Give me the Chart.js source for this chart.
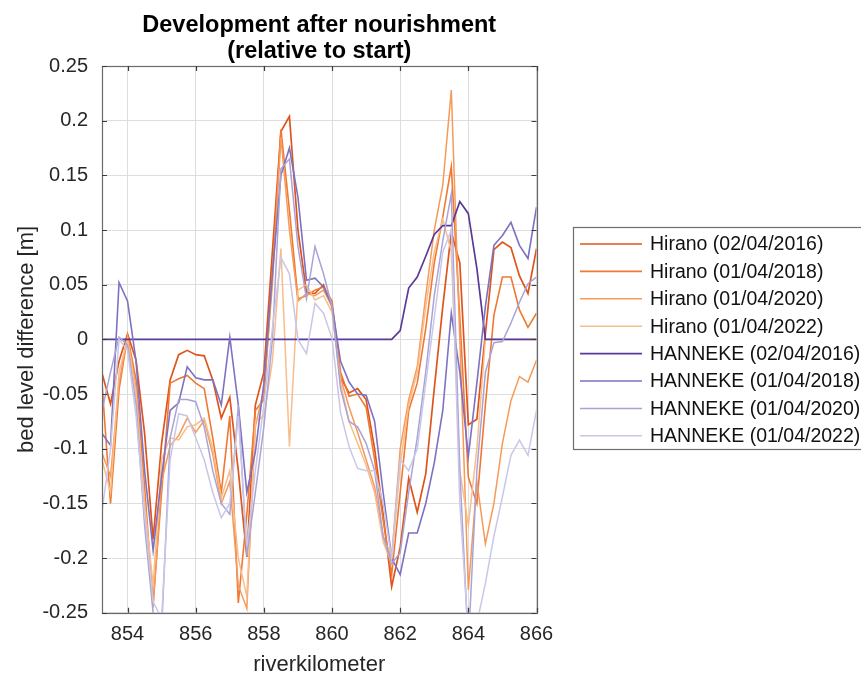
<!DOCTYPE html>
<html>
<head>
<meta charset="utf-8">
<script src="https://cdn.jsdelivr.net/npm/chart.js@4/dist/chart.umd.min.js"></script>
<style>
  html, body { margin: 0; padding: 0; background: #ffffff; }
  #wrap { width: 861px; height: 679px; }
</style>
</head>
<body>
<div id="wrap"><canvas id="c" width="861" height="679"></canvas></div>
<script>
// River kilometres of the cross-sections (every 250 m)
const km = [
  853.25, 853.5, 853.75, 854, 854.25, 854.5, 854.75, 855, 855.25, 855.5,
  855.75, 856, 856.25, 856.5, 856.75, 857, 857.25, 857.5, 857.75, 858,
  858.25, 858.5, 858.75, 859, 859.25, 859.5, 859.75, 860, 860.25, 860.5,
  860.75, 861, 861.25, 861.5, 861.75, 862, 862.25, 862.5, 862.75, 863,
  863.25, 863.5, 863.75, 864, 864.25, 864.5, 864.75, 865, 865.25, 865.5,
  865.75, 866
];

// Bed level difference relative to the start situation [m]
const hirano2016 = [
  -0.031, -0.059, -0.020, 0.005, -0.019, -0.086, -0.183, -0.095, -0.037, -0.014,
  -0.010, -0.014, -0.015, -0.037, -0.072, -0.053, -0.120, -0.199, -0.060, -0.030,
  0.080, 0.190, 0.204, 0.100, 0.043, 0.042, 0.050, 0.030, -0.035, -0.049,
  -0.045, -0.055, -0.100, -0.160, -0.226, -0.190, -0.127, -0.158, -0.123, -0.045,
  0.030, 0.098, 0.070, -0.078, -0.073, 0.005, 0.082, 0.089, 0.084, 0.058,
  0.042, 0.083
];
const hirano2018 = [
  -0.040, -0.150, -0.046, 0.003, -0.037, -0.135, -0.241, -0.140, -0.040, -0.036,
  -0.033, -0.040, -0.045, -0.090, -0.140, -0.070, -0.241, -0.160, -0.065, -0.055,
  0.060, 0.192, 0.118, 0.037, 0.040, 0.045, 0.048, 0.035, -0.030, -0.052,
  -0.050, -0.062, -0.110, -0.165, -0.215, -0.140, -0.065, -0.040, 0.010, 0.070,
  0.112, 0.158, 0.020, -0.126, -0.150, -0.060, 0.022, 0.057, 0.057, 0.027,
  0.011, 0.024
];
const hirano2020 = [
  -0.104, -0.125, -0.040, 0.003, -0.045, -0.160, -0.245, -0.130, -0.097, -0.088,
  -0.072, -0.085, -0.074, -0.105, -0.150, -0.130, -0.225, -0.246, -0.080, -0.045,
  0.050, 0.185, 0.100, 0.035, 0.042, 0.040, 0.045, 0.030, -0.035, -0.062,
  -0.085, -0.110, -0.135, -0.180, -0.200, -0.100, -0.055, -0.025, 0.040, 0.100,
  0.141, 0.228, 0.000, -0.229, -0.130, -0.187, -0.150, -0.095, -0.056, -0.034,
  -0.039, -0.019
];
const hirano2022 = [
  -0.110, -0.140, -0.030, 0.000, -0.050, -0.150, -0.225, -0.110, -0.090, -0.092,
  -0.080, -0.078, -0.072, -0.100, -0.145, -0.120, -0.200, -0.235, -0.075, -0.070,
  -0.020, 0.083, -0.098, 0.045, 0.050, 0.036, 0.040, 0.025, -0.040, -0.075,
  -0.095, -0.115, -0.140, -0.185, -0.205, -0.115, -0.060, -0.030, 0.030, 0.080,
  0.110, 0.080, -0.120, -0.170, -0.100, 0.000, 0.000, 0.000, 0.000, 0.000,
  0.000, 0.000
];
const hanneke2016 = [
  0, 0, 0, 0, 0, 0, 0, 0, 0, 0,
  0, 0, 0, 0, 0, 0, 0, 0, 0, 0,
  0, 0, 0, 0, 0, 0, 0, 0, 0, 0,
  0, 0, 0, 0, 0, 0.008, 0.047, 0.057, 0.076, 0.096,
  0.104, 0.104, 0.126, 0.115, 0.065, 0, 0, 0, 0, 0,
  0, 0
];
const hanneke2018 = [
  -0.086, -0.097, 0.052, 0.035, -0.020, -0.120, -0.193, -0.125, -0.065, -0.058,
  -0.025, -0.035, -0.037, -0.037, -0.060, 0.002, -0.060, -0.140, -0.103, -0.040,
  0.060, 0.150, 0.175, 0.130, 0.054, 0.056, 0.048, 0.031, -0.020, -0.039,
  -0.050, -0.051, -0.075, -0.140, -0.200, -0.215, -0.177, -0.177, -0.150, -0.113,
  -0.065, 0.024, -0.030, -0.107, -0.040, 0.030, 0.086, 0.095, 0.107, 0.086,
  0.074, 0.121
];
const hanneke2020 = [
  -0.065, -0.030, 0.002, -0.005, -0.060, -0.170, -0.250, -0.265, -0.090, -0.055,
  -0.055, -0.057, -0.080, -0.120, -0.150, -0.160, -0.060, -0.198, -0.140, -0.080,
  0.000, 0.156, 0.165, 0.085, 0.037, 0.085, 0.060, 0.030, -0.045, -0.075,
  -0.080, -0.095, -0.120, -0.180, -0.205, -0.195, -0.140, -0.090, -0.030, 0.040,
  0.090, 0.133, -0.120, -0.280, -0.120, -0.030, -0.003, -0.002, 0.015, 0.034,
  0.051, 0.057
];
const hanneke2022 = [
  -0.157, -0.100, 0.000, -0.010, -0.070, -0.160, -0.240, -0.255, -0.110, -0.068,
  -0.070, -0.090, -0.110, -0.140, -0.163, -0.150, -0.070, -0.190, -0.120, -0.060,
  0.010, 0.075, 0.060, 0.000, -0.013, 0.033, 0.024, 0.001, -0.067, -0.098,
  -0.118, -0.120, -0.120, -0.150, -0.200, -0.110, -0.120, -0.100, -0.040, 0.020,
  0.080, 0.100, -0.150, -0.270, -0.260, -0.223, -0.180, -0.144, -0.106, -0.092,
  -0.106, -0.065
];

const seriesLabels = [
  'Hirano (02/04/2016)', 'Hirano (01/04/2018)', 'Hirano (01/04/2020)', 'Hirano (01/04/2022)',
  'HANNEKE (02/04/2016)', 'HANNEKE (01/04/2018)', 'HANNEKE (01/04/2020)', 'HANNEKE (01/04/2022)'
];
const seriesValues = [hirano2016, hirano2018, hirano2020, hirano2022,
                      hanneke2016, hanneke2018, hanneke2020, hanneke2022];
const seriesColors = ['#de541c', '#f07832', '#f59a58', '#f8bd8a',
                      '#5a3a98', '#7d71c2', '#a9a3d8', '#c9c7e7'];
const seriesWidths = [1.7, 1.6, 1.5, 1.5, 1.7, 1.6, 1.5, 1.5];

const xTicks = [854, 856, 858, 860, 862, 864, 866];
const yTicks = [-0.25, -0.2, -0.15, -0.1, -0.05, 0, 0.05, 0.1, 0.15, 0.2, 0.25];

const FONT = '"Liberation Sans", Arial, Helvetica, sans-serif';
const TEXT = '#262626';

// Frame geometry of the axes box
const PLOT = { left: 102, top: 66, right: 536.5, bottom: 612.8 };
const W = 861, H = 679;

const datasets = seriesValues.map((vals, k) => ({
  label: seriesLabels[k],
  data: km.map((x, i) => ({ x: x, y: vals[i] })),
  borderColor: seriesColors[k],
  backgroundColor: seriesColors[k],
  borderWidth: seriesWidths[k],
  pointRadius: 0,
  tension: 0,
  fill: false,
  order: seriesValues.length - k
}));

// White page, MATLAB-like axes box with inward ticks, titles and legend
const decorations = {
  id: 'decorations',
  beforeDraw(chart) {
    const c = chart.ctx;
    c.save();
    c.fillStyle = '#ffffff';
    c.fillRect(0, 0, W, H);
    c.restore();
  },
  afterDatasetsDraw(chart) {
    const c = chart.ctx;
    const a = chart.chartArea;
    const xs = chart.scales.x, ys = chart.scales.y;
    c.save();
    c.strokeStyle = '#6a6a6a';
    c.lineWidth = 1.2;
    c.strokeRect(Math.round(a.left) + 0.5, Math.round(a.top) + 0.5,
                 Math.round(a.right - a.left), Math.round(a.bottom - a.top));
    c.strokeStyle = '#3c3c3c';
    const tl = 5;
    c.beginPath();
    xTicks.forEach(v => {
      const px = Math.round(xs.getPixelForValue(v)) + 0.5;
      c.moveTo(px, a.bottom); c.lineTo(px, a.bottom - tl);
      c.moveTo(px, a.top); c.lineTo(px, a.top + tl);
    });
    yTicks.forEach(v => {
      const py = Math.round(ys.getPixelForValue(v)) + 0.5;
      c.moveTo(a.left, py); c.lineTo(a.left + tl, py);
      c.moveTo(a.right, py); c.lineTo(a.right - tl, py);
    });
    c.stroke();
    c.restore();
  },
  afterDraw(chart) {
    const c = chart.ctx;
    const a = chart.chartArea;
    c.save();
    // title
    c.fillStyle = '#000000';
    c.textAlign = 'center';
    c.textBaseline = 'alphabetic';
    c.font = 'bold 23.5px ' + FONT;
    const cx = (a.left + a.right) / 2;
    c.fillText('Development after nourishment', cx, 32);
    c.fillText('(relative to start)', cx, 58);
    // axis titles
    c.fillStyle = TEXT;
    c.font = '22px ' + FONT;
    c.fillText('riverkilometer', cx, 671);
    c.translate(33, (a.top + a.bottom) / 2);
    c.rotate(-Math.PI / 2);
    c.fillText('bed level difference [m]', 0, 0);
    c.restore();

    // legend
    c.save();
    const lx = 573.5, ly = 227.5, lw = 320, lh = 222;
    c.fillStyle = '#ffffff';
    c.fillRect(lx, ly, lw, lh);
    c.strokeStyle = '#6e6e6e';
    c.lineWidth = 1.2;
    c.strokeRect(lx, ly, lw, lh);
    c.font = '19.5px ' + FONT;
    c.textAlign = 'left';
    c.textBaseline = 'middle';
    seriesLabels.forEach((label, k) => {
      const y = 244 + k * 27.4;
      c.strokeStyle = seriesColors[k];
      c.lineWidth = seriesWidths[k];
      c.beginPath();
      c.moveTo(580, y);
      c.lineTo(642, y);
      c.stroke();
      c.fillStyle = '#111111';
      c.fillText(label, 650, y + 1);
    });
    c.restore();
  }
};

new Chart(document.getElementById('c'), {
  type: 'line',
  data: { datasets: datasets },
  options: {
    responsive: false,
    animation: false,
    events: [],
    layout: { padding: { top: PLOT.top, right: W - PLOT.right, bottom: 0, left: 0 } },
    plugins: { legend: { display: false }, title: { display: false }, tooltip: { enabled: false } },
    scales: {
      x: {
        type: 'linear',
        min: km[0],
        max: km[km.length - 1],
        afterBuildTicks: s => { s.ticks = xTicks.map(v => ({ value: v })); },
        afterFit: s => { s.height = H - PLOT.bottom; },
        grid: { color: '#dedede', lineWidth: 1, drawTicks: false },
        border: { display: false },
        ticks: {
          padding: 10,
          color: TEXT,
          font: { family: FONT, size: 20 },
          maxRotation: 0,
          autoSkip: false,
          callback: v => String(v)
        }
      },
      y: {
        type: 'linear',
        min: yTicks[0],
        max: yTicks[yTicks.length - 1],
        afterBuildTicks: s => { s.ticks = yTicks.map(v => ({ value: v })); },
        afterFit: s => { s.width = PLOT.left; },
        grid: { color: '#dedede', lineWidth: 1, drawTicks: false },
        border: { display: false },
        ticks: {
          padding: 14,
          color: TEXT,
          font: { family: FONT, size: 20 },
          autoSkip: false,
          callback: v => String(Math.round(v * 100) / 100)
        }
      }
    }
  },
  plugins: [decorations]
});
</script>
</body>
</html>
